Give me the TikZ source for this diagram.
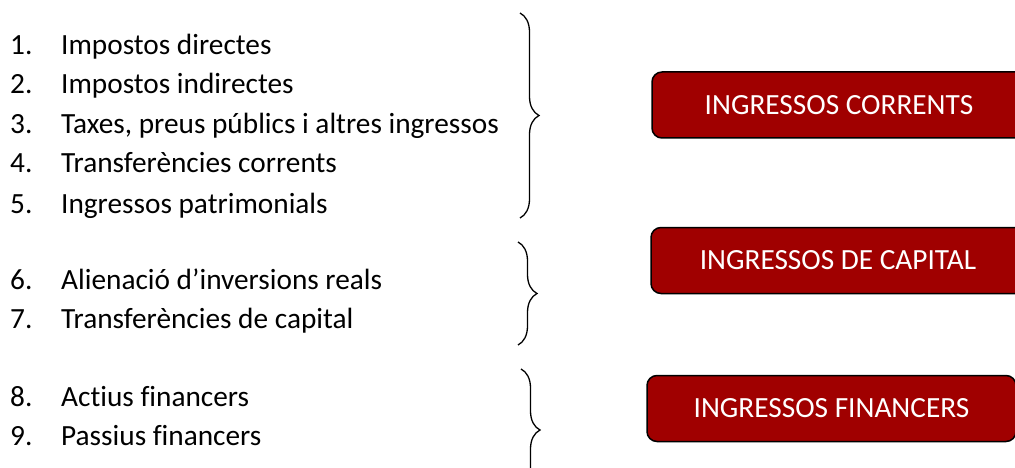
\documentclass[tikz,border=0pt]{standalone}
\usepackage{fontspec}
\setmainfont{Carlito}[Ligatures=NoCommon]
\usetikzlibrary{decorations.pathreplacing}
\definecolor{boxred}{HTML}{A00000}

\tikzset{
  item/.style={anchor=base west, inner sep=0pt, font=\fontsize{29.3}{35}\selectfont},
  ingbox/.style={draw=black, line width=1.5pt, fill=boxred, text=white,
    rounded corners=10pt, minimum width=374pt, minimum height=66pt,
    inner sep=0pt, font=\fontsize{29.3}{35}\selectfont},
  clau/.style={decorate, decoration={brace, amplitude=19pt}, line width=1.3pt}
}

\begin{document}
\begin{tikzpicture}[x=1pt, y=-1pt]
  \useasboundingbox (0,0) rectangle (1015,468);
  % list of items
  \foreach \n/\y/\txt in {1/55/Impostos directes, 2/94/Impostos indirectes,
      3/134/{Taxes, preus públics i altres ingressos}, 4/173/Transferències corrents,
      5/213/Ingressos patrimonials, 6/289/Alienació d’inversions reals,
      7/328/Transferències de capital, 8/406/Actius financers, 9/445/Passius financers}
    \node[item] (item\n) at (10,\y) {\makebox[51pt][l]{\n.}\txt};

  % boxes
  \node[ingbox] (corrents) at (839,105) {INGRESSOS CORRENTS};
  \node[ingbox] (capital) at (838,260.5) {INGRESSOS DE CAPITAL};
  \node[ingbox, minimum width=369pt] (financers) at (831.5,408.5) {INGRESSOS FINANCERS};

  % braces
  \coordinate (corr top) at (520,13);
  \coordinate (corr bot) at (520,218);
  \coordinate (cap top) at (518,242);
  \coordinate (cap bot) at (518,345);
  \coordinate (fin top) at (521,369);
  \coordinate (fin bot) at (521,491);
  \draw[clau] (corr top) -- (corr bot);
  \draw[clau] (cap top) -- (cap bot);
  \draw[clau] (fin top) -- (fin bot);
\end{tikzpicture}
\end{document}
